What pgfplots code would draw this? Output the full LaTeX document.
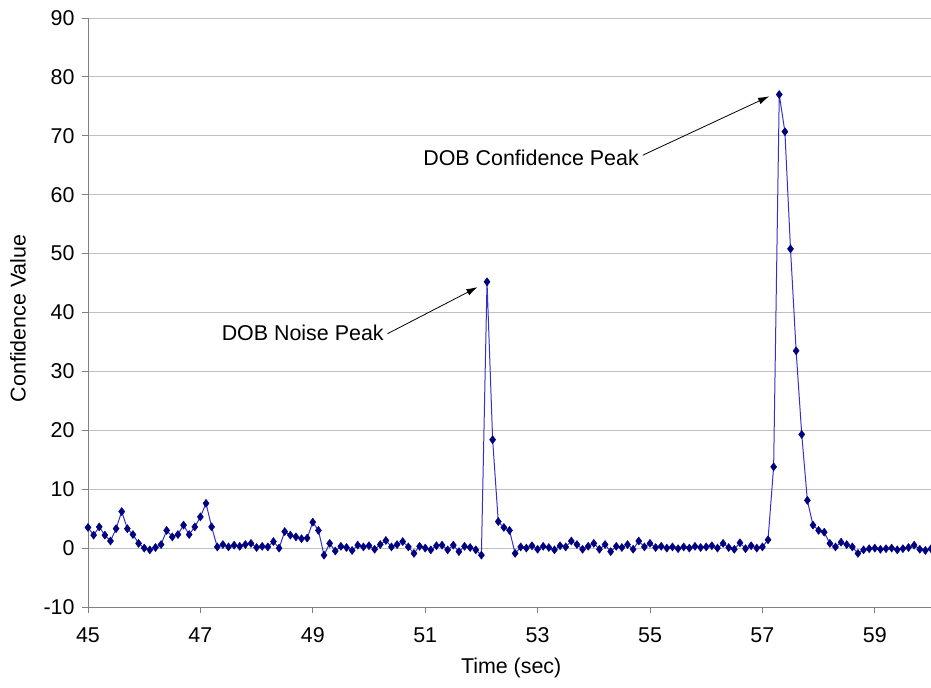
\documentclass[border=0pt]{standalone}
\usepackage{fontspec}
\setmainfont{Liberation Sans}
\usepackage{pgfplots}
\pgfplotsset{compat=1.18}
\usepackage{pgfplotstable}
\usetikzlibrary{arrows.meta}

\definecolor{gridgray}{RGB}{192,192,192}
\definecolor{axisgray}{RGB}{128,128,128}
\definecolor{navy}{RGB}{0,0,128}
\definecolor{linecol}{RGB}{50,50,200}

% confidence value, sampled every 0.1 s
\pgfplotstableread{
t v
45.0 3.5
45.1 2.2
45.2 3.6
45.3 2.2
45.4 1.2
45.5 3.3
45.6 6.2
45.7 3.3
45.8 2.3
45.9 0.8
46.0 0.0
46.1 -0.3
46.2 0.1
46.3 0.6
46.4 3.0
46.5 1.9
46.6 2.3
46.7 3.9
46.8 2.3
46.9 3.6
47.0 5.3
47.1 7.6
47.2 3.6
47.3 0.2
47.4 0.6
47.5 0.2
47.6 0.5
47.7 0.3
47.8 0.6
47.9 0.8
48.0 0.1
48.1 0.3
48.2 0.2
48.3 1.1
48.4 0.0
48.5 2.8
48.6 2.2
48.7 1.9
48.8 1.6
48.9 1.7
49.0 4.4
49.1 3.0
49.2 -1.2
49.3 0.8
49.4 -0.5
49.5 0.3
49.6 0.1
49.7 -0.4
49.8 0.5
49.9 0.2
50.0 0.4
50.1 -0.2
50.2 0.6
50.3 1.3
50.4 0.2
50.5 0.6
50.6 1.1
50.7 0.2
50.8 -0.9
50.9 0.3
51.0 0.0
51.1 -0.3
51.2 0.4
51.3 0.5
51.4 -0.3
51.5 0.5
51.6 -0.6
51.7 0.3
51.8 0.1
51.9 -0.3
52.0 -1.2
52.1 45.2
52.2 18.4
52.3 4.5
52.4 3.5
52.5 3.0
52.6 -0.9
52.7 0.2
52.8 0.0
52.9 0.4
53.0 -0.2
53.1 0.3
53.2 0.1
53.3 -0.3
53.4 0.4
53.5 0.2
53.6 1.2
53.7 0.6
53.8 -0.2
53.9 0.3
54.0 0.8
54.1 -0.2
54.2 0.6
54.3 -0.6
54.4 0.3
54.5 0.1
54.6 0.6
54.7 -0.2
54.8 1.2
54.9 0.2
55.0 0.8
55.1 0.1
55.2 0.3
55.3 0.0
55.4 0.2
55.5 -0.1
55.6 0.2
55.7 0.0
55.8 0.3
55.9 0.1
56.0 0.2
56.1 0.4
56.2 0.0
56.3 0.8
56.4 0.1
56.5 -0.2
56.6 0.9
56.7 -0.1
56.8 0.4
56.9 0.0
57.0 0.2
57.1 1.4
57.2 13.8
57.3 77.0
57.4 70.7
57.5 50.8
57.6 33.5
57.7 19.3
57.8 8.1
57.9 3.9
58.0 3.0
58.1 2.7
58.2 0.8
58.3 0.2
58.4 1.0
58.5 0.6
58.6 0.2
58.7 -0.9
58.8 -0.3
58.9 -0.1
59.0 0.0
59.1 -0.2
59.2 -0.1
59.3 0.0
59.4 -0.3
59.5 -0.1
59.6 0.1
59.7 0.5
59.8 -0.2
59.9 -0.4
60.0 -0.1
}\conftable

\begin{document}
\begin{tikzpicture}
\begin{axis}[
    scale only axis,
    width=843bp, height=589bp,
    xmin=45, xmax=60, ymin=-10, ymax=90,
    axis x line*=bottom, axis y line*=left,
    axis line style={axisgray, line width=0.8bp},
    xtick={45,47,49,51,53,55,57,59},
    xticklabels={45,47,49,51,53,55,57,59},
    ytick={-10,0,10,20,30,40,50,60,70,80,90},
    yticklabels={-10,0,10,20,30,40,50,60,70,80,90},
    tick align=outside, major tick length=6bp,
    tick style={axisgray, line width=0.8bp},
    ymajorgrids, grid style={gridgray, line width=0.8bp},
    tick label style={font=\fontsize{21.5}{25}\selectfont},
    xticklabel style={yshift=-11bp},
    yticklabel style={xshift=-4bp},
    label style={font=\fontsize{21.5}{25}\selectfont},
    xlabel={Time (sec)}, ylabel={Confidence Value},
    every axis x label/.append style={at={(axis description cs:0.502,-0.104)}, anchor=center},
    every axis y label/.append style={at={(axis description cs:-0.083,0.49)}, anchor=center, rotate=0},
  ]
  \coordinate (ll) at (rel axis cs:0,0);
  \coordinate (ur) at (rel axis cs:1,1);
  \addplot[linecol, line width=1bp, mark=diamond*, mark size=4bp,
    mark options={draw=navy, fill=navy, line width=0.5bp}] table[x=t, y=v] {\conftable};

  \draw[-{Latex[length=11bp, width=7bp]}, line width=0.8bp] (axis cs:50.33,36.4) -- (axis cs:51.93,44.3);
  \node[anchor=east, font=\fontsize{21.5}{25}\selectfont, inner sep=2bp] at (axis cs:50.3,36.5) {DOB Noise Peak};
  \draw[-{Latex[length=11bp, width=7bp]}, line width=0.8bp] (axis cs:54.87,66.7) -- (axis cs:57.12,76.7);
  \node[anchor=east, font=\fontsize{21.5}{25}\selectfont, inner sep=2bp] at (axis cs:54.84,66.2) {DOB Confidence Peak};
\end{axis}
\pgfresetboundingbox
\path ([xshift=-88bp,yshift=-81bp]ll) rectangle ([yshift=18bp]ur);
\end{tikzpicture}
\end{document}
